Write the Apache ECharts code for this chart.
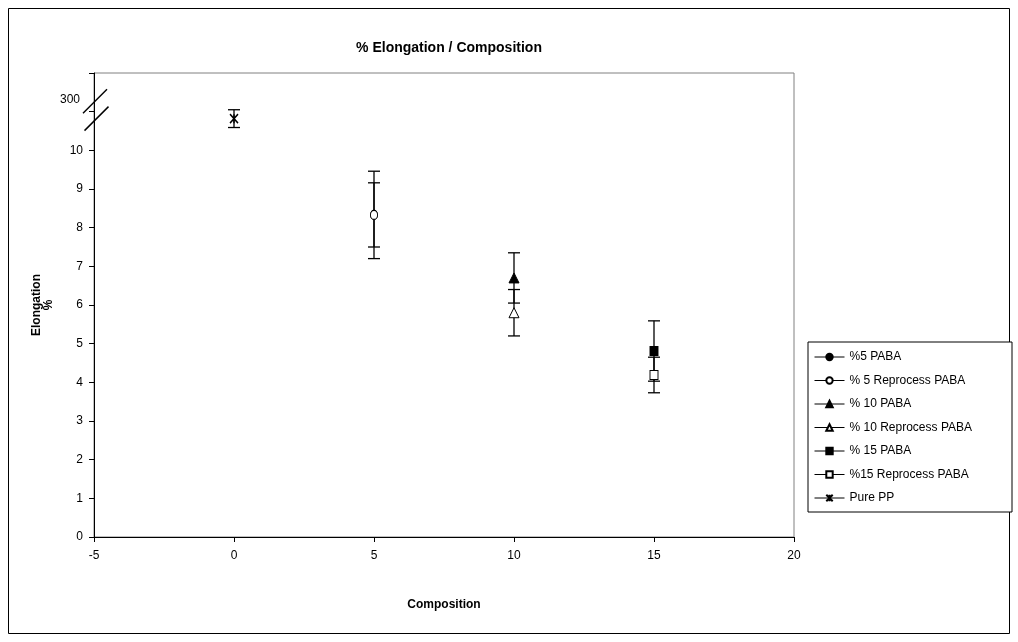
<!DOCTYPE html>
<html>
<head>
<meta charset="utf-8">
<script src="https://cdn.jsdelivr.net/npm/echarts@6/dist/echarts.min.js"></script>
<style>
  html, body { margin: 0; padding: 0; background: #fff; }
  #chart { width: 1018px; height: 642px; }
</style>
</head>
<body>
<div id="chart"></div>
<script>
// Series names, in legend order
const seriesNames = ['%5 PABA', '% 5 Reprocess PABA', '% 10 PABA', '% 10 Reprocess PABA', '% 15 PABA', '%15 Reprocess PABA', 'Pure PP'];
// Composition (% PABA) of each series
const composition = [5, 5, 10, 10, 15, 15, 0];
// Mean elongation (%). Pure PP sits in the condensed band above the axis break.
const elongation = [8.33, 8.33, 6.70, 5.80, 4.81, 4.19, 10.82];
// Error bar half-widths
const errorBars = [0.83, 1.13, 0.65, 0.60, 0.78, 0.46, 0.23];
// Marker styling per series
const markerSymbols = ['circle', 'circle', 'triangle', 'triangle', 'rect', 'rect', 'path://M0,0L10,10M10,0L0,10M5,0L5,10'];
const markerFilled = [true, false, true, false, true, false, false];
// Axis break label shown above the break
const breakLabel = '300';
const breakLabelValue = 11.3;
const breakMarks = [11.27, 10.82];

const font = 'Liberation Sans, Arial, sans-serif';
const chart = echarts.init(document.getElementById('chart'), null, { renderer: 'canvas' });

const errorData = composition.map((c, i) => [c, elongation[i], errorBars[i]]);

const markerSeries = seriesNames.map((name, i) => ({
  name,
  type: 'line',
  data: [[composition[i], elongation[i]]],
  symbol: markerSymbols[i],
  symbolSize: markerSymbols[i] === 'triangle' ? 10 : (markerSymbols[i] === 'rect' ? [8, 9] : (i === 6 ? [8, 9] : [7, 9])),
  showSymbol: true,
  lineStyle: { color: '#000', width: 1 },
  itemStyle: {
    color: markerFilled[i] ? '#000' : (i === 6 ? 'rgba(0,0,0,0)' : '#fff'),
    borderColor: '#000',
    borderWidth: i === 6 ? 1.5 : 1
  },
  emphasis: { disabled: true },
  z: 3
}));

chart.setOption({
  animation: false,
  backgroundColor: '#fff',
  title: {
    text: '% Elongation / Composition',
    left: 444,
    top: 36,
    textAlign: 'center',
    textStyle: { fontFamily: font, fontSize: 14, fontWeight: 'bold', color: '#000' }
  },
  grid: {
    left: 94, right: 224, top: 73, bottom: 105,
    show: true, borderColor: '#808080', borderWidth: 1, backgroundColor: '#fff'
  },
  legend: {
    orient: 'vertical',
    left: 808,
    top: 342,
    data: seriesNames,
    itemWidth: 30,
    itemHeight: 8,
    itemGap: 11.5,
    padding: [9, 40, 8, 6],
    borderColor: '#000',
    borderWidth: 1,
    backgroundColor: '#fff',
    lineStyle: { width: 1 },
    textStyle: { fontFamily: font, fontSize: 12, color: '#000' }
  },
  xAxis: {
    type: 'value',
    min: -5, max: 20, interval: 5,
    name: 'Composition',
    nameLocation: 'middle',
    nameGap: 62,
    nameTextStyle: { fontFamily: font, fontSize: 12, fontWeight: 'bold', color: '#000' },
    axisLine: { show: true, onZero: false, lineStyle: { color: '#000', width: 1 } },
    axisTick: { show: true, inside: false, length: 5, lineStyle: { color: '#000' } },
    axisLabel: { fontFamily: font, fontSize: 12, color: '#000', margin: 13 },
    splitLine: { show: false }
  },
  yAxis: {
    type: 'value',
    min: 0, max: 12, interval: 1,
    name: 'Elongation\n%',
    nameLocation: 'middle',
    nameRotate: 90,
    nameGap: 39,
    nameTextStyle: { fontFamily: font, fontSize: 12, fontWeight: 'bold', color: '#000', lineHeight: 12 },
    axisLine: { show: true, onZero: false, lineStyle: { color: '#000', width: 1 } },
    axisTick: { show: true, inside: false, length: 5, lineStyle: { color: '#000' } },
    axisLabel: {
      fontFamily: font, fontSize: 12, color: '#000', margin: 11,
      formatter: v => (v <= 10 ? String(v) : '')
    },
    splitLine: { show: false }
  },
  series: [
    {
      name: 'errors',
      type: 'custom',
      data: errorData,
      z: 2,
      silent: true,
      renderItem(params, api) {
        const x = api.value(0), y = api.value(1), e = api.value(2);
        const top = api.coord([x, y + e]);
        const bot = api.coord([x, y - e]);
        const hw = 6;
        const st = { stroke: '#000', lineWidth: 1.3 };
        return {
          type: 'group',
          children: [
            { type: 'line', shape: { x1: top[0], y1: top[1], x2: bot[0], y2: bot[1] }, style: st },
            { type: 'line', shape: { x1: top[0] - hw, y1: top[1], x2: top[0] + hw, y2: top[1] }, style: st },
            { type: 'line', shape: { x1: bot[0] - hw, y1: bot[1], x2: bot[0] + hw, y2: bot[1] }, style: st }
          ]
        };
      }
    },
    ...markerSeries
  ]
});

// Axis break: value label above the break and the two slash marks
const labelPos = chart.convertToPixel({ gridIndex: 0 }, [-5, breakLabelValue]);
const graphics = [
  {
    type: 'rect',
    shape: { x: 8.5, y: 8.5, width: 1001, height: 625 },
    style: { fill: 'none', stroke: '#000', lineWidth: 1 },
    z: -1
  },
  {
    type: 'text',
    x: labelPos[0] - 14,
    y: labelPos[1],
    style: { text: breakLabel, font: '12px ' + font, fill: '#000', align: 'right', verticalAlign: 'middle' }
  }
];
breakMarks.forEach((v, k) => {
  const p = chart.convertToPixel({ gridIndex: 0 }, [-5, v]);
  const cx = p[0] + 1 + k * 1.5;
  graphics.push({
    type: 'line',
    shape: { x1: cx - 12, y1: p[1] + 12, x2: cx + 12, y2: p[1] - 12 },
    style: { stroke: '#000', lineWidth: 1.5 },
    z: 10
  });
});
chart.setOption({ graphic: graphics });
</script>
</body>
</html>
